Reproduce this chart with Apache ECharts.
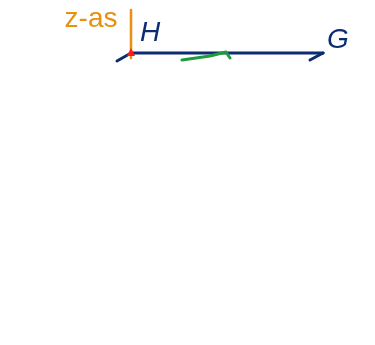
<!DOCTYPE html>
<html>
<head>
<meta charset="utf-8">
<script src="https://cdn.jsdelivr.net/npm/echarts@6/dist/echarts.min.js"></script>
<style>
  html, body { margin: 0; padding: 0; background: #fff; }
  #chart { width: 375px; height: 345px; }
</style>
</head>
<body>
<div id="chart"></div>
<script>
  // drawing coordinates (x right, y down), one unit = one pixel of the picture
  var zAxisLine = [[131, 10], [131, 58]]
  var hgLine = [[131, 53], [323, 53]]
  var arrowTip = [[323, 53], [310, 60]]
  var xAxisStub = [[131, 53], [117, 61]]
  var greenCurve = [[182, 60], [196, 58], [210, 56], [226, 52], [230, 58]]
  var origin = [[131, 52]]
  var labels = [
    {name: 'z-as', value: [91, 19], color: '#e8900f', italic: false},
    {name: 'H', value: [150, 33], color: '#0c2c72', italic: true},
    {name: 'G', value: [338, 40], color: '#0c2c72', italic: true}
  ]

  var blue = '#0c2c72'
  var chart = echarts.init(document.getElementById('chart'), null, {renderer: 'canvas'})

  function seg(name, data, color, width) {
    return {
      name: name,
      type: 'line',
      data: data,
      symbol: 'none',
      smooth: false,
      silent: true,
      lineStyle: {color: color, width: width, cap: 'round', join: 'round'}
    }
  }

  chart.setOption({
    animation: false,
    grid: {left: 0, right: 0, top: 0, bottom: 0},
    xAxis: {type: 'value', min: 0, max: 375, show: false},
    yAxis: {type: 'value', min: 0, max: 345, inverse: true, show: false},
    series: [
      seg('z-as', zAxisLine, '#e8900f', 2.5),
      seg('HG', hgLine, blue, 3),
      seg('pijl', arrowTip, blue, 3),
      seg('x', xAxisStub, blue, 3),
      seg('kromme', greenCurve, '#1e9b3c', 3),
      {
        name: 'O',
        type: 'scatter',
        data: origin,
        symbol: 'triangle',
        symbolSize: 8,
        itemStyle: {color: '#ff1a1a', opacity: 1},
        silent: true,
        z: 5
      },
      {
        name: 'labels',
        type: 'scatter',
        symbolSize: 0,
        silent: true,
        itemStyle: {opacity: 1},
        data: labels.map(function (l) {
          return {
            name: l.name,
            value: l.value,
            label: {
              show: true,
              position: 'inside',
              formatter: '{b}',
              color: l.color,
              fontSize: 28,
              fontStyle: l.italic ? 'italic' : 'normal',
              fontFamily: 'Liberation Sans, Arial, sans-serif'
            }
          }
        })
      }
    ]
  })
</script>
</body>
</html>
